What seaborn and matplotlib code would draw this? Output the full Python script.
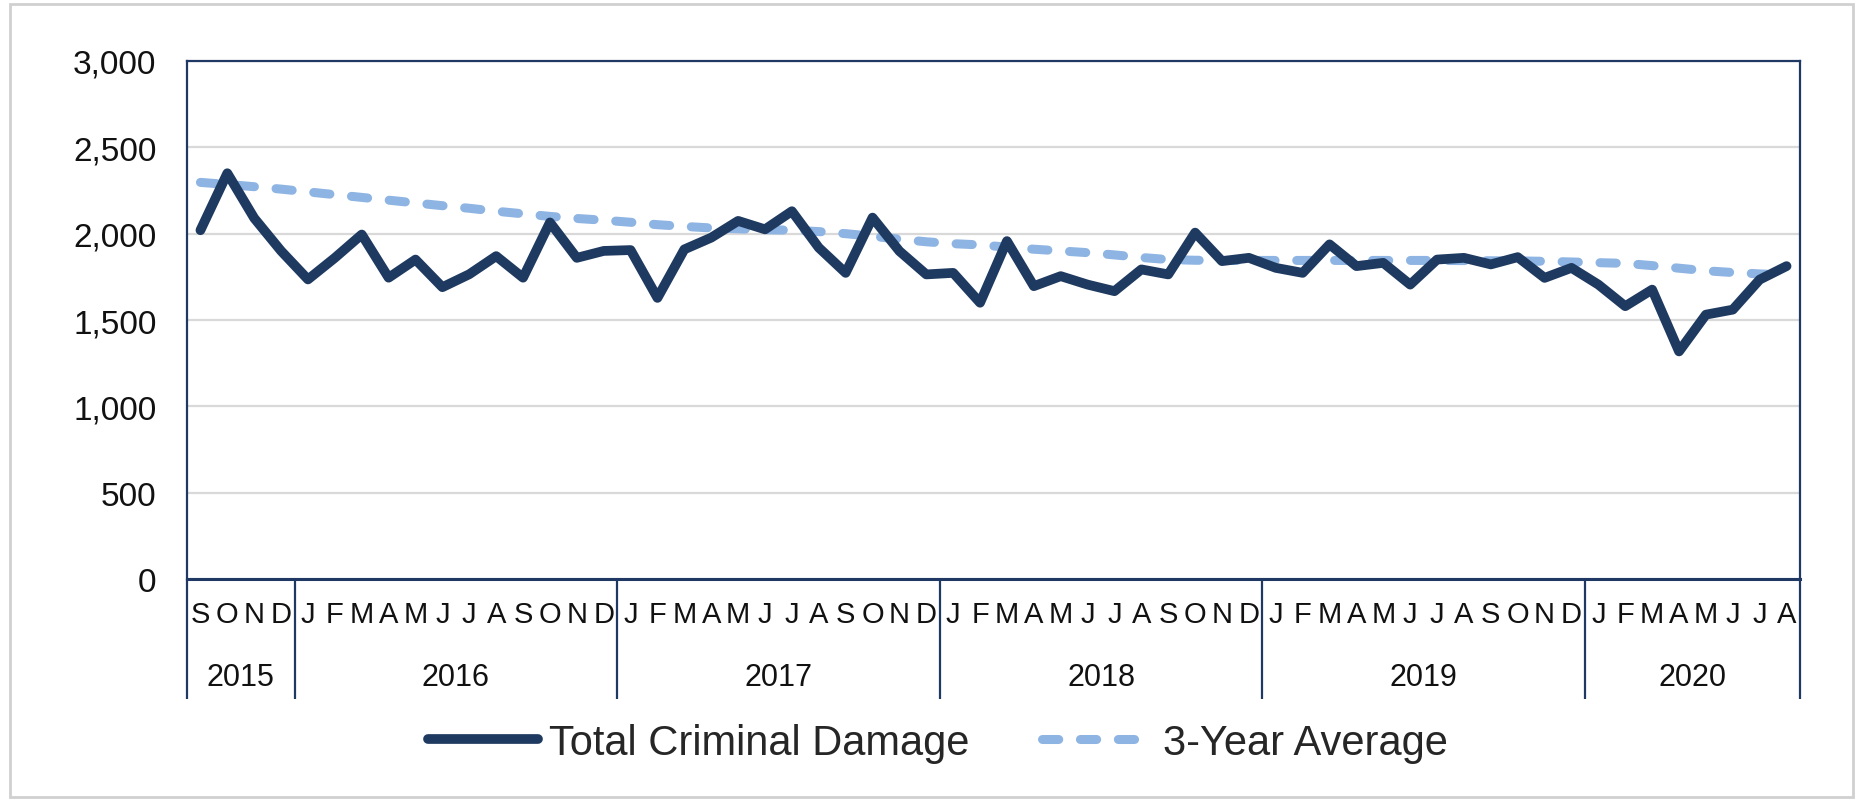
import matplotlib
matplotlib.use("Agg")
import matplotlib.pyplot as plt
import matplotlib.transforms as mtransforms
from matplotlib import font_manager
from matplotlib.patches import Rectangle
from matplotlib.lines import Line2D
import seaborn as sns
import pandas as pd

# ---- data ----
month_letters = (["S", "O", "N", "D"] +
                 ["J", "F", "M", "A", "M", "J", "J", "A", "S", "O", "N", "D"] * 4 +
                 ["J", "F", "M", "A", "M", "J", "J", "A"])
years = ["2015", "2016", "2017", "2018", "2019", "2020"]
months_per_year = [4, 12, 12, 12, 12, 8]

total_damage = [2020, 2350, 2090, 1900, 1735, 1860, 1995, 1745, 1850, 1690, 1765, 1870,
                1745, 2065, 1860, 1900, 1905, 1628, 1909, 1977, 2074, 2025, 2130, 1919,
                1773, 2093, 1899, 1764, 1773, 1600, 1957, 1696, 1754, 1705, 1667, 1793,
                1764, 2006, 1841, 1860, 1802, 1773, 1938, 1812, 1831, 1705, 1850, 1860,
                1822, 1864, 1744, 1802, 1705, 1580, 1676, 1318, 1531, 1560, 1734, 1812]
three_year_avg = [2297, 2285, 2272, 2258, 2242, 2226, 2210, 2194, 2178, 2162, 2147, 2130,
                  2115, 2100, 2088, 2078, 2066, 2052, 2042, 2033, 2028, 2023, 2020, 2012,
                  2000, 1985, 1968, 1953, 1942, 1935, 1922, 1910, 1900, 1890, 1877, 1862,
                  1850, 1846, 1845, 1845, 1845, 1845, 1845, 1845, 1845, 1845, 1845, 1844,
                  1843, 1842, 1840, 1836, 1832, 1828, 1815, 1800, 1785, 1775, 1767, 1760]
y_ticks = [0, 500, 1000, 1500, 2000, 2500, 3000]
series_names = ["Total Criminal Damage", "3-Year Average"]

df = pd.DataFrame({"idx": list(range(len(total_damage))),
                   "total": total_damage, "avg": three_year_avg})

# ---- style ----
sns.set_theme(style="white")
plt.rcParams["font.family"] = ["Liberation Sans", "DejaVu Sans"]

NAVY = "#1F3A60"
LIGHT = "#8DB4E2"
FRAME = "#1F3864"
GRID = "#D9D9D9"
TXT = "#111111"

fig = plt.figure(figsize=(18.57, 8.03), dpi=100)
ax = fig.add_axes([187 / 1857, 1 - 580 / 803, (1800 - 187) / 1857, (580 - 62) / 803])

sns.lineplot(data=df, x="idx", y="avg", ax=ax, color=LIGHT, linewidth=6.5, zorder=3)
ax.lines[-1].set_dashes((1.8, 2.4))
ax.lines[-1].set_dash_capstyle("round")
sns.lineplot(data=df, x="idx", y="total", ax=ax, color=NAVY, linewidth=7, zorder=4)
ax.lines[-1].set_solid_capstyle("round")
ax.lines[-1].set_solid_joinstyle("round")

ax.set_xlim(-0.5, len(total_damage) - 0.5)
ax.set_ylim(0, 3000)
ax.set_yticks(y_ticks)
ax.set_yticklabels([f"{v:,}" for v in y_ticks], fontsize=24, color=TXT)
ax.set_xticks(range(len(month_letters)))
ax.set_xticklabels(month_letters, fontsize=21, color=TXT)
ax.tick_params(axis="y", length=0, pad=22)
ax.tick_params(axis="x", length=0, pad=15)
ax.set_xlabel("")
ax.set_ylabel("")

ax.yaxis.grid(True, color=GRID, linewidth=1.6)
ax.xaxis.grid(False)
ax.set_axisbelow(True)
for name, sp in ax.spines.items():
    sp.set_visible(True)
    sp.set_color(FRAME)
    sp.set_linewidth(1.6)
ax.spines["bottom"].set_linewidth(2.2)

# year separators and labels
trans = mtransforms.blended_transform_factory(ax.transData, ax.transAxes)
bounds = [-0.5]
for n in months_per_year:
    bounds.append(bounds[-1] + n)
for b in bounds:
    ax.plot([b, b], [0, -0.232], transform=trans, color=FRAME, linewidth=1.6,
            clip_on=False, solid_capstyle="butt")
for i, yr in enumerate(years):
    cx = (bounds[i] + bounds[i + 1]) / 2
    ax.text(cx, -0.19, yr, transform=trans, ha="center", va="center",
            fontsize=22, color=TXT)

# legend
handles = [Line2D([0], [0], color=NAVY, linewidth=7, solid_capstyle="round"),
           Line2D([0], [0], color=LIGHT, linewidth=6.5, dashes=(1.8, 2.4),
                  dash_capstyle="round")]
fig.legend(handles, series_names, loc="center", bbox_to_anchor=(0.505, 1 - 744 / 803),
           ncol=2, frameon=False, handlelength=2.65, handletextpad=0.25,
           columnspacing=1.75, fontsize=30)

# outer border
fig.patches.append(Rectangle((10 / 1857, 5 / 803), (1853 - 10) / 1857, (798 - 5) / 803,
                             transform=fig.transFigure, fill=False,
                             edgecolor="#D0D0D0", linewidth=2))

fig.savefig("out.png", dpi=100, facecolor="white")
